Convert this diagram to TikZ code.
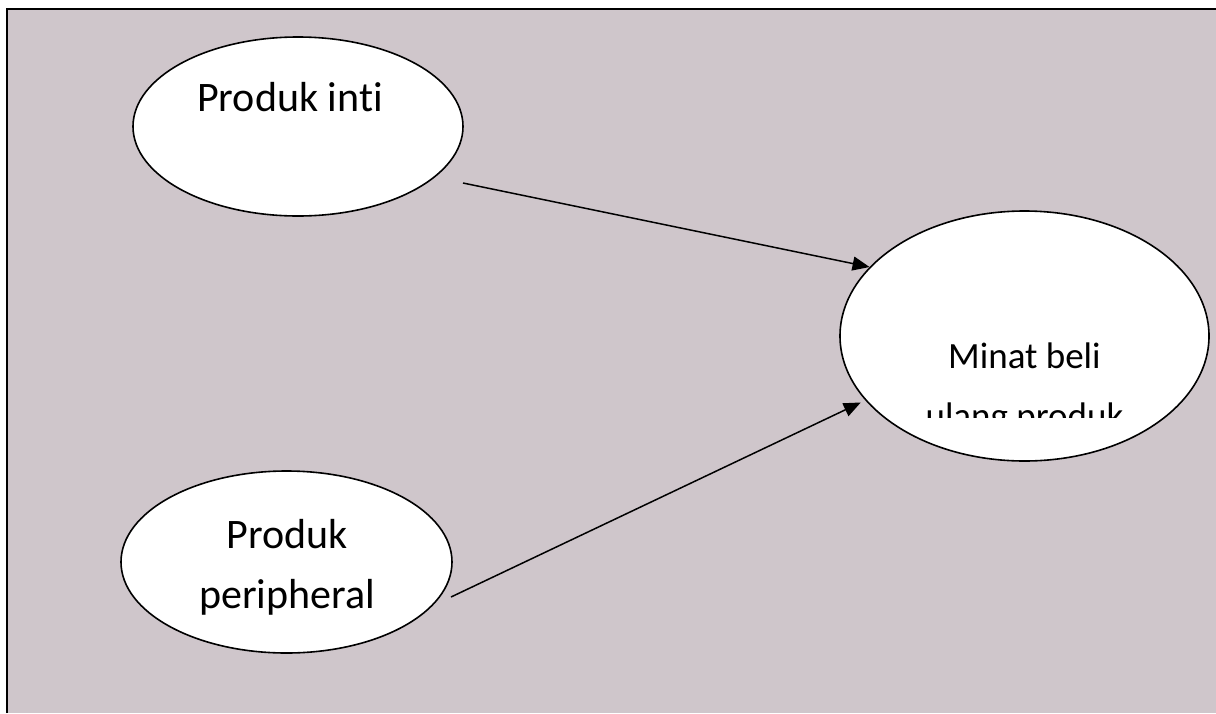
\documentclass[tikz,border=0pt]{standalone}
\usepackage{fontspec}
\setmainfont{Carlito}[Ligatures=NoCommon]
\usetikzlibrary{shapes.geometric,arrows.meta}
\definecolor{bgmauve}{RGB}{207,198,203}
\begin{document}
\begin{tikzpicture}[x=1pt,y=-1pt,
  oval/.style={ellipse,draw=black,line width=1.6pt,fill=white,inner sep=0pt},
  lbl/.style={anchor=base,inner sep=0pt,font=\fontsize{42}{50}\selectfont},
  lblsmall/.style={anchor=base,inner sep=0pt,font=\fontsize{37}{44}\selectfont},
  conn/.style={line width=1.5pt,-{Triangle[length=17pt,width=14pt]}},
  frame/.style={line width=2pt,draw=black}]
\useasboundingbox (0,0) rectangle (1216,713);
\fill[white] (0,0) rectangle (1216,713);
\fill[bgmauve] (7,9) rectangle (1216,713);
\coordinate (fbl) at (7,713);
\coordinate (ftl) at (7,9);
\coordinate (ftr) at (1216,9);
\draw[frame] (fbl) -- (ftl) -- (ftr);
% ellipses
\node[oval,minimum width=330pt,minimum height=179pt] (inti) at (298,126.5) {};
\node[oval,minimum width=331pt,minimum height=182pt] (peri) at (286.5,562) {};
\node[oval,minimum width=369pt,minimum height=250pt] (minat) at (1024.5,336) {};
% labels
\node[lbl] (tinti) at (290,111) {Produk inti};
\node[lbl] (tperi1) at (287,548) {Produk};
\node[lbl] (tperi2) at (287,608) {peripheral};
\node[lblsmall] (tminat1) at (1024.5,368) {Minat beli};
\begin{scope}
\clip (880,300) rectangle (1170,417);
\node[lblsmall] (tminat2) at (1024.5,428) {ulang produk};
\end{scope}
% connectors
\coordinate (a1s) at (463,183);
\coordinate (a2s) at (451,597);
\draw[conn] (a1s) -- (minat.156);
\draw[conn,shorten >=5pt] (a2s) -- (minat.202);
\end{tikzpicture}
\end{document}
